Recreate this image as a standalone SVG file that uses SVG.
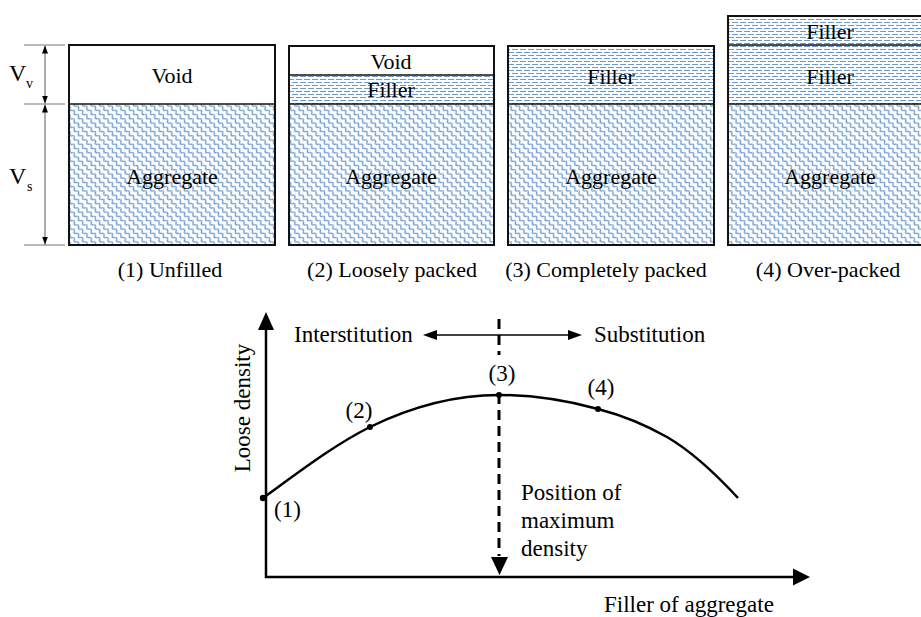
<svg xmlns="http://www.w3.org/2000/svg" width="921" height="617" viewBox="0 0 921 617" font-family="'Liberation Serif', 'DejaVu Serif', serif">
  <defs>
    <!-- wavy hatch used for the aggregate layer -->
    <pattern id="agg" width="6" height="6" patternUnits="userSpaceOnUse" patternTransform="rotate(45)">
      <rect width="6" height="6" fill="#ffffff"/>
      <path d="M-3,3 Q-1.5,0.5 0,3 T3,3 T6,3 T9,3" fill="none" stroke="#4a82c0" stroke-width="1.05"/>
    </pattern>
    <!-- dashed horizontal hatch used for the filler layer -->
    <pattern id="fill" width="8" height="6" patternUnits="userSpaceOnUse">
      <rect width="8" height="6" fill="#ffffff"/>
      <line x1="0" y1="1.5" x2="6" y2="1.5" stroke="#5b8fc8" stroke-width="0.9"/>
      <line x1="4" y1="4.5" x2="10" y2="4.5" stroke="#5b8fc8" stroke-width="0.9"/>
      <line x1="-4" y1="4.5" x2="2" y2="4.5" stroke="#5b8fc8" stroke-width="0.9"/>
    </pattern>
    <marker id="dimTip" viewBox="0 0 8 8" refX="8" refY="4" markerWidth="8" markerHeight="8" markerUnits="userSpaceOnUse" orient="auto-start-reverse">
      <path d="M0,1 L8,4 L0,7 Z" fill="#000"/>
    </marker>
  </defs>
  <style>
    text { font-family: "Liberation Serif", "DejaVu Serif", serif; fill: #000; }
    .lbl { font-size: 22px; }
    .chart { font-size: 23px; }
    .mid { text-anchor: middle; }
    .box { stroke: #111; stroke-width: 2; }
    .div { stroke: #111; stroke-width: 1.5; fill: none; }
    .dim { stroke: #777; stroke-width: 1.2; fill: none; }
    .axis { stroke: #000; stroke-width: 2.5; fill: none; }
    .dash { stroke: #000; stroke-width: 3; stroke-dasharray: 10 6; fill: none; }
    .arrow { fill: #000; }
    .dot { fill: #000; }
  </style>

  <!-- dimension lines for Vv and Vs -->
  <g id="dimensions">
    <line class="dim" x1="24" y1="45" x2="65" y2="45"/>
    <line class="dim" x1="24" y1="104" x2="65" y2="104"/>
    <line class="dim" x1="24" y1="245" x2="65" y2="245"/>
    <line class="dim" x1="45" y1="74" x2="45" y2="45.5" marker-end="url(#dimTip)"/>
    <line class="dim" x1="45" y1="74" x2="45" y2="103.5" marker-end="url(#dimTip)"/>
    <line class="dim" x1="45" y1="175" x2="45" y2="104.5" marker-end="url(#dimTip)"/>
    <line class="dim" x1="45" y1="175" x2="45" y2="244.5" marker-end="url(#dimTip)"/>
    <text x="9" y="81" font-size="24">V</text>
    <text x="26" y="88" font-size="14">v</text>
    <text x="9" y="184" font-size="24">V</text>
    <text x="27" y="191" font-size="14">s</text>
  </g>

  <!-- (1) Unfilled -->
  <g id="state1">
    <rect x="69" y="45" width="206" height="59" fill="#ffffff"/>
    <rect x="69" y="104" width="206" height="141" fill="url(#agg)"/>
    <rect class="box" x="69" y="45" width="206" height="200" fill="none"/>
    <line class="div" x1="69" y1="104" x2="275" y2="104"/>
    <text class="lbl mid" x="172" y="83">Void</text>
    <text class="lbl mid" x="172" y="184">Aggregate</text>
    <text class="lbl mid" x="170" y="277">(1) Unfilled</text>
  </g>

  <!-- (2) Loosely packed -->
  <g id="state2">
    <rect x="289" y="46" width="205" height="29" fill="#ffffff"/>
    <rect x="289" y="75" width="205" height="29" fill="url(#fill)"/>
    <rect x="289" y="104" width="205" height="141" fill="url(#agg)"/>
    <rect class="box" x="289" y="46" width="205" height="199" fill="none"/>
    <line class="div" x1="289" y1="75" x2="494" y2="75"/>
    <line class="div" x1="289" y1="104" x2="494" y2="104"/>
    <text class="lbl mid" x="391" y="69">Void</text>
    <text class="lbl mid" x="391" y="97">Filler</text>
    <text class="lbl mid" x="391" y="184">Aggregate</text>
    <text class="lbl mid" x="392" y="277">(2) Loosely packed</text>
  </g>

  <!-- (3) Completely packed -->
  <g id="state3">
    <rect x="508" y="46" width="206" height="58" fill="url(#fill)"/>
    <rect x="508" y="104" width="206" height="141" fill="url(#agg)"/>
    <rect class="box" x="508" y="46" width="206" height="199" fill="none"/>
    <line class="div" x1="508" y1="104" x2="714" y2="104"/>
    <text class="lbl mid" x="611" y="84">Filler</text>
    <text class="lbl mid" x="611" y="184">Aggregate</text>
    <text class="lbl mid" x="606" y="277">(3) Completely packed</text>
  </g>

  <!-- (4) Over-packed -->
  <g id="state4">
    <rect x="728" y="16" width="206" height="29" fill="url(#fill)"/>
    <rect x="728" y="45" width="206" height="59" fill="url(#fill)"/>
    <rect x="728" y="104" width="206" height="141" fill="url(#agg)"/>
    <rect class="box" x="728" y="16" width="206" height="229" fill="none"/>
    <line class="div" x1="728" y1="45" x2="934" y2="45"/>
    <line class="div" x1="728" y1="104" x2="934" y2="104"/>
    <text class="lbl mid" x="830" y="39">Filler</text>
    <text class="lbl mid" x="830" y="84">Filler</text>
    <text class="lbl mid" x="830" y="184">Aggregate</text>
    <text class="lbl mid" x="828" y="277">(4) Over-packed</text>
  </g>

  <!-- density chart: axes, curve and annotations -->
  <g id="connectors">
    <line class="axis" x1="266" y1="578" x2="266" y2="328"/>
    <path class="arrow" d="M266,312 L258,330 L274,330 Z"/>
    <line class="axis" x1="265" y1="577" x2="795" y2="577"/>
    <path class="arrow" d="M810,577 L793,568.5 L793,585.5 Z"/>

    <line stroke="#000" stroke-width="1.5" x1="436" y1="335" x2="570" y2="335"/>
    <path class="arrow" d="M423,335 L437,330 L437,340 Z"/>
    <path class="arrow" d="M582,335 L568,330 L568,340 Z"/>

    <!-- dashed marker of the maximum, broken around the (3) label -->
    <line class="dash" x1="499" y1="319" x2="499" y2="355"/>
    <line class="dash" x1="499" y1="394" x2="499" y2="556"/>
    <path class="arrow" d="M491,557 L508,557 L499.5,575 Z"/>

    <path fill="none" stroke="#000" stroke-width="2.5"
          d="M263,498 C299,472 334,445 370,427 C413,406 456,395 499,395 C532,395 565,400 598,409 C621,415 644,424 667,437 C691,451 714,472 738,498"/>
  </g>

  <g id="points">
    <circle class="dot" cx="263" cy="498" r="3.2"/>
    <circle class="dot" cx="370" cy="427" r="3"/>
    <circle class="dot" cx="499" cy="395" r="3"/>
    <circle class="dot" cx="598" cy="409" r="3"/>
    <text class="chart" x="274" y="517">(1)</text>
    <text class="chart mid" x="359" y="418">(2)</text>
    <text class="chart mid" x="502" y="381">(3)</text>
    <text class="chart mid" x="601" y="395">(4)</text>
  </g>

  <g id="labels">
    <text class="chart" x="294" y="342">Interstitution</text>
    <text class="chart" x="594" y="342">Substitution</text>
    <text class="chart" x="521" y="500">Position of</text>
    <text class="chart" x="521" y="528">maximum</text>
    <text class="chart" x="521" y="556">density</text>
    <text class="chart" x="604" y="612">Filler of aggregate</text>
    <text class="chart mid" transform="translate(250,408) rotate(-90)">Loose density</text>
  </g>
</svg>
